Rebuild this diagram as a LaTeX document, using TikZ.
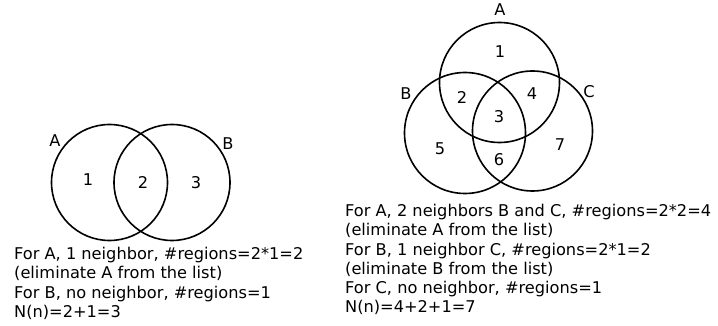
\documentclass[tikz,border=0pt]{standalone}
\usepackage{fontspec}
\setmainfont{DejaVu Sans}
\begin{document}
\begin{tikzpicture}[x=1pt,y=-1pt,
  venn/.style={draw=black,line width=1.6pt},
  lbl/.style={font=\fontsize{16.2}{19}\selectfont,inner sep=0pt},
  txt/.style={font=\fontsize{16.2}{19}\selectfont,inner sep=0pt,anchor=base west}]
\useasboundingbox (0,0) rectangle (718,326);
% left diagram
\draw[venn] (109.5,182.5) circle (58);
\draw[venn] (172,182.5) circle (58);
\node[lbl] (lA) at (55,141) {A};
\node[lbl] (lB) at (228,144) {B};
\node[lbl] (l1) at (88,180) {1};
\node[lbl] (l2) at (143,182) {2};
\node[lbl] (l3) at (196,183) {3};
\node[txt] (t1) at (14,259) {For A, 1 neighbor, \#regions=2*1=2};
\node[txt] (t2) at (14,278.5) {(eliminate A from the list)};
\node[txt] (t3) at (14,298) {For B, no neighbor, \#regions=1};
\node[txt] (t4) at (14,317.5) {N(n)=2+1=3};
% right diagram
\draw[venn] (499.5,82.5) circle (60);
\draw[venn] (465,133) circle (60.5);
\draw[venn] (532.5,131) circle (60);
\node[lbl] (rA) at (500,10) {A};
\node[lbl] (rB) at (406,94) {B};
\node[lbl] (rC) at (589,92) {C};
\node[lbl] (r1) at (500,52) {1};
\node[lbl] (r2) at (462,97) {2};
\node[lbl] (r4) at (532,94) {4};
\node[lbl] (r3) at (499,117) {3};
\node[lbl] (r5) at (440,149) {5};
\node[lbl] (r7) at (560,145) {7};
\node[lbl] (r6) at (499,160) {6};
\node[txt] (s1) at (345,217) {For A, 2 neighbors B and C, \#regions=2*2=4};
\node[txt] (s2) at (345,236) {(eliminate A from the list)};
\node[txt] (s3) at (345,255) {For B, 1 neighbor C, \#regions=2*1=2};
\node[txt] (s4) at (345,274) {(eliminate B from the list)};
\node[txt] (s5) at (345,293) {For C, no neighbor, \#regions=1};
\node[txt] (s6) at (345,312) {N(n)=4+2+1=7};
\end{tikzpicture}
\end{document}
